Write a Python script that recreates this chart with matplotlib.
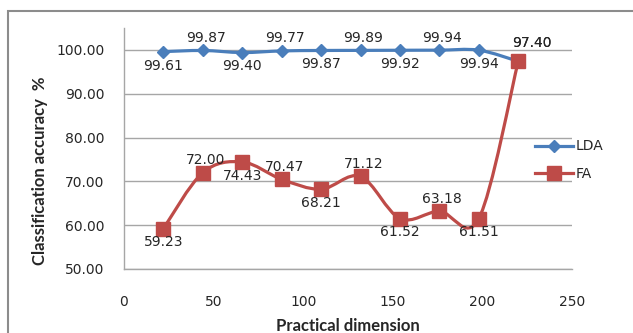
import matplotlib
matplotlib.use("Agg")
import matplotlib.pyplot as plt
from matplotlib.path import Path
from matplotlib.patches import PathPatch, Rectangle
from matplotlib.lines import Line2D
import numpy as np

dims = [22, 44, 66, 88, 110, 132, 154, 176, 198, 220]
lda = [99.61, 99.87, 99.40, 99.77, 99.87, 99.89, 99.92, 99.94, 99.94, 97.40]
fa = [59.23, 72.00, 74.43, 70.47, 68.21, 71.12, 61.52, 63.18, 61.51, 97.40]
yticks = [50, 60, 70, 80, 90, 100]
xticks = [0, 50, 100, 150, 200, 250]

LDA_C = "#4A7EBB"
FA_C = "#BE4B48"

W, H = 633, 333
fig = plt.figure(figsize=(W / 100, H / 100), dpi=100)
fig.patch.set_facecolor("white")

# outer frame
fig.patches.append(Rectangle((8 / W, -0.05), 1.1, 1 - 11 / H + 0.05, transform=fig.transFigure,
                             fill=False, edgecolor="#8C8C8C", linewidth=1.5))

ax = fig.add_axes([124 / W, 1 - 269 / H, (572 - 124) / W, (269 - 28) / H])
ax.set_xlim(0, 250)
ax.set_ylim(50, 105)
ax.set_yticks(yticks)
ax.set_yticklabels([f"{v:.2f}" for v in yticks])
ax.set_xticks(xticks)
ax.set_xticklabels([str(v) for v in xticks])
ax.tick_params(length=0, labelsize=10, colors="#262626")
ax.tick_params(axis="x", pad=19)
ax.tick_params(axis="y", pad=14)
for s in ["top", "right"]:
    ax.spines[s].set_visible(False)
for s in ["left", "bottom"]:
    ax.spines[s].set_color("#A6A6A6")
    ax.spines[s].set_linewidth(1.0)
ax.grid(axis="y", color="#A6A6A6", linewidth=1.0)
ax.set_axisbelow(True)


def smooth_path(xs, ys):
    P = np.column_stack([xs, ys]).astype(float)
    n = len(P)
    verts = [P[0]]
    codes = [Path.MOVETO]
    for i in range(n - 1):
        p0 = P[i - 1] if i > 0 else P[i]
        p3 = P[i + 2] if i + 2 < n else P[i + 1]
        c1 = P[i] + (P[i + 1] - p0) / 6.0
        c2 = P[i + 1] - (p3 - P[i]) / 6.0
        verts += [c1, c2, P[i + 1]]
        codes += [Path.CURVE4] * 3
    return Path(verts, codes)


for ys, col, mk, ms in [(lda, LDA_C, "D", 5.8), (fa, FA_C, "s", 9.5)]:
    ax.add_patch(PathPatch(smooth_path(dims, ys), fill=False, edgecolor=col,
                           linewidth=2.3, transform=ax.transData, capstyle="round",
                           joinstyle="round", zorder=3))
    ax.plot(dims, ys, linestyle="none", marker=mk, markersize=ms, color=col, zorder=4)

# data labels (alternating below / above)
for series in (lda, fa):
    for i, (x, y) in enumerate(zip(dims, series)):
        if i == len(dims) - 1:
            off = (10, 13)
        elif i % 2 == 0:
            off = (0, -10)
        else:
            off = (2, 9)
        ax.annotate(f"{y:.2f}", (x, y), xytext=off, textcoords="offset points",
                    ha="center", va="center", fontsize=10, color="#262626", zorder=5)

fig.text(348 / W, 1 - 326 / H, "Practical dimension", ha="center", va="center",
         fontsize=12, fontweight="bold", family="Lato", color="#262626")
fig.text(40 / W, 1 - 171 / H, "Classification accuracy  %", ha="center", va="center",
         rotation=90, fontsize=12, fontweight="bold", family="Lato", color="#262626")

handles = [Line2D([], [], color=LDA_C, marker="D", markersize=5.8, linewidth=2.3),
           Line2D([], [], color=FA_C, marker="s", markersize=9.5, linewidth=2.3)]
fig.legend(handles, ["LDA", "FA"], loc="center left",
           bbox_to_anchor=(535 / W, 1 - 160 / H), frameon=False, fontsize=10,
           handlelength=2.7, handletextpad=0.25, labelspacing=0.95, borderpad=0,
           borderaxespad=0, labelcolor="#262626")

fig.savefig("out.png", dpi=100)
